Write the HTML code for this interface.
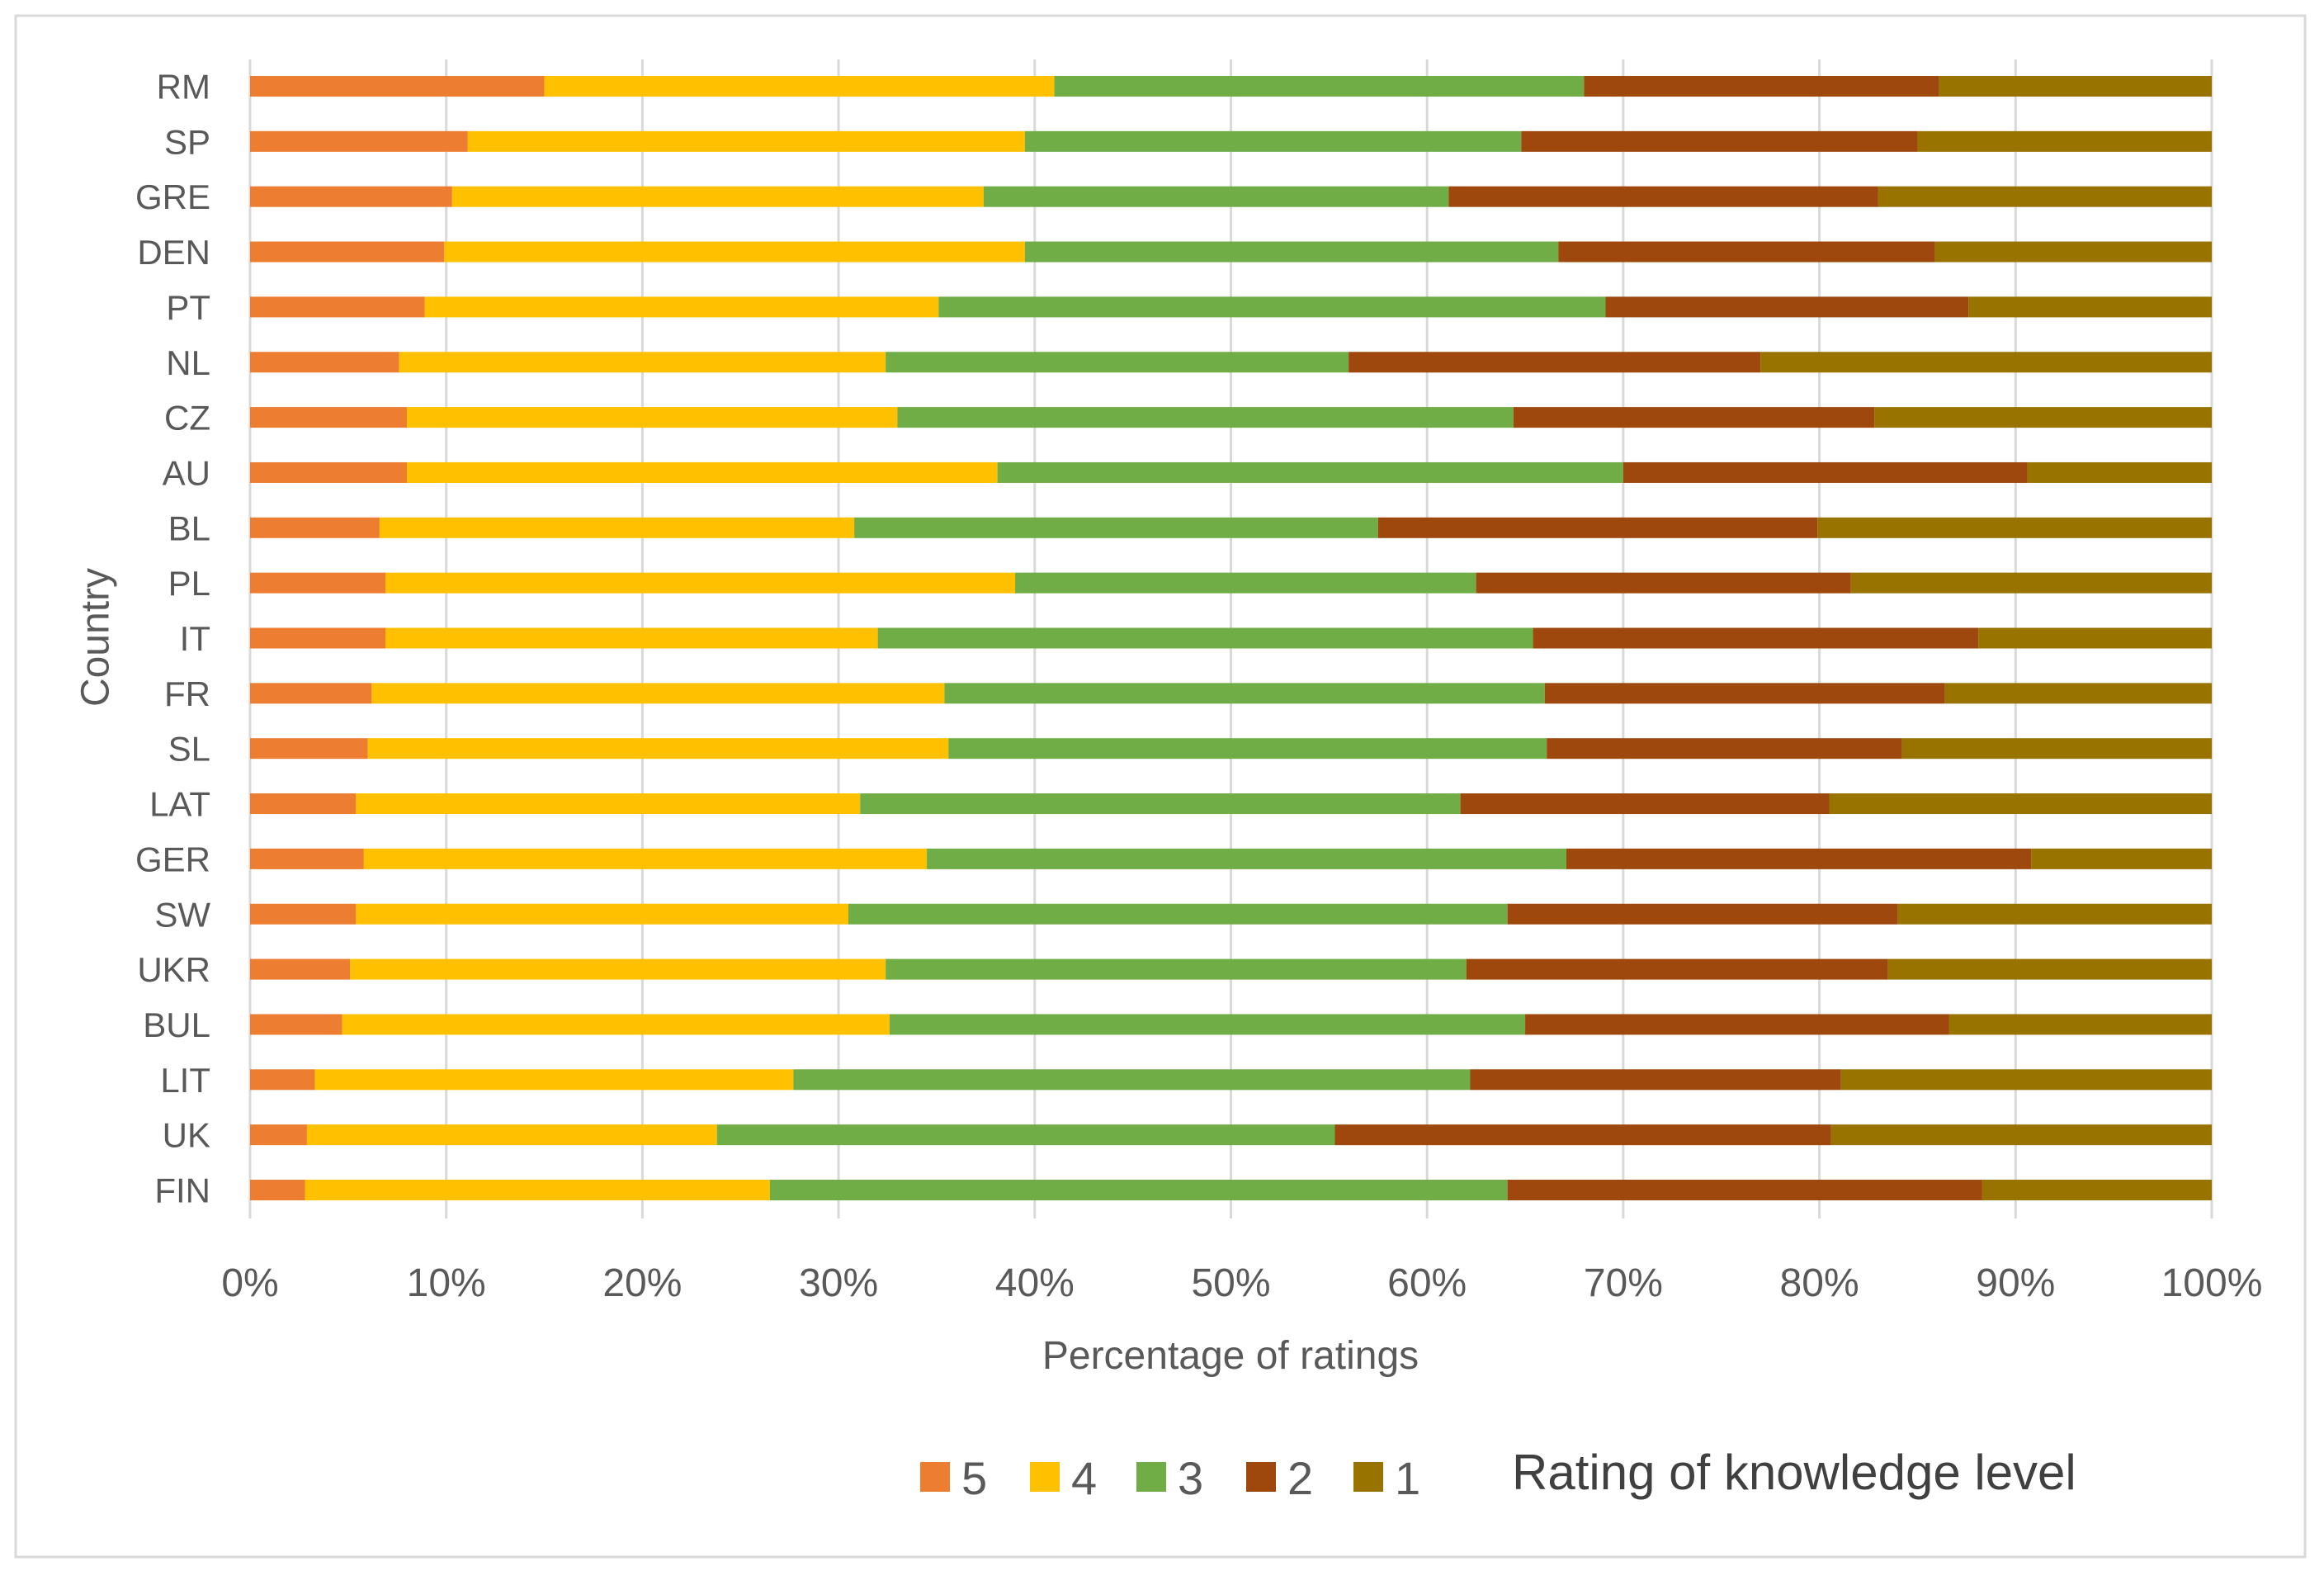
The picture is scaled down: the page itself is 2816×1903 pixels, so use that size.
<!DOCTYPE html>
<html><head><meta charset="utf-8"><style>
html,body{margin:0;padding:0;background:#fff}
svg{display:block}
text{font-family:"Liberation Sans",sans-serif;fill:#595959}
</style></head><body>
<svg id="chart" width="2816" height="1903" viewBox="0 0 2816 1903">
<rect x="19" y="19" width="2774" height="1867" fill="#fff" stroke="#d9d9d9" stroke-width="3"/>
<g id="grid"></g>
<g id="bars"></g>
<g id="ylabels"></g>
<g id="xlabels"></g>
<text x="119" y="772" font-size="48" text-anchor="middle" transform="rotate(-90 119 772)" dominant-baseline="middle">Country</text>
<text x="1491" y="1658" font-size="48" text-anchor="middle">Percentage of ratings</text>
<g id="legend"></g>
<text x="1832" y="1804" font-size="60" fill="#404040" style="fill:#404040">Rating of knowledge level</text>
</svg>
<script>
const countries=["RM","SP","GRE","DEN","PT","NL","CZ","AU","BL","PL","IT","FR","SL","LAT","GER","SW","UKR","BUL","LIT","UK","FIN"];
const r5=[15.0,11.1,10.3,9.9,8.9,7.6,8.0,8.0,6.6,6.9,6.9,6.2,6.0,5.4,5.8,5.4,5.1,4.7,3.3,2.9,2.8];
const r4=[26.0,28.4,27.1,29.6,26.2,24.8,25.0,30.1,24.2,32.1,25.1,29.2,29.6,25.7,28.7,25.1,27.3,27.9,24.4,20.9,23.7];
const r3=[27.0,25.3,23.7,27.2,34.0,23.6,31.4,31.9,26.7,23.5,33.4,30.6,30.5,30.6,32.6,33.6,29.6,32.4,34.5,31.5,37.6];
const r2=[18.1,20.2,21.9,19.2,18.5,21.0,18.4,20.6,22.4,19.1,22.7,20.4,18.1,18.8,23.7,19.9,21.5,21.6,18.9,25.3,24.2];
const r1=[13.9,15.0,17.0,14.1,12.4,23.0,17.2,9.4,20.1,18.4,11.9,13.6,15.8,19.5,9.2,16.0,16.5,13.4,18.9,19.4,11.7];
const seriesNames=["5","4","3","2","1"];
const xTicks=["0%","10%","20%","30%","40%","50%","60%","70%","80%","90%","100%"];
const colors=["#ED7D31","#FFC000","#70AD47","#9E480E","#997300"];
const NS="http://www.w3.org/2000/svg";
const X0=303,X1=2680,Y0=104.5,STEP=66.85,BH=25,GT=72,GB=1476;
const xs=p=>X0+(X1-X0)*p/100;
const ys=i=>Y0+i*STEP;
function mk(tag,attrs,parent){const e=document.createElementNS(NS,tag);for(const k in attrs)e.setAttribute(k,attrs[k]);parent.appendChild(e);return e;}
const grid=document.getElementById('grid'),bars=document.getElementById('bars'),yl=document.getElementById('ylabels'),xl=document.getElementById('xlabels'),lg=document.getElementById('legend');
xTicks.forEach((t,i)=>{
  const x=xs(i*10);
  const l=mk('line',{x1:x,x2:x,y1:GT,y2:GB,stroke:'#d9d9d9','stroke-width':3},grid);
  
  
  const tx=mk('text',{x:x,y:1570,'font-size':48,'text-anchor':'middle'},xl);
  tx.textContent=t;
  
  
});
const series=[r5,r4,r3,r2,r1];
countries.forEach((c,i)=>{
  const y=ys(i);
  const total=series.reduce((s,a)=>s+a[i],0);
  let cum=0;
  series.forEach((arr,k)=>{
    const v=arr[i]/total*100;
    const r=mk('rect',{x:xs(cum),y:y-BH/2,width:xs(cum+v)-xs(cum),height:BH,fill:colors[k]},bars);
    
    
    cum+=v;
  });
  const t=mk('text',{x:255,y:y+15,'font-size':42,'text-anchor':'end'},yl);
  t.textContent=c;
  
  
});
const lx=[1115,1248,1377,1510,1640];
seriesNames.forEach((n,k)=>{
  const r=mk('rect',{x:lx[k],y:1771,width:36,height:36,fill:colors[k]},lg);
  
  
  const t=mk('text',{x:lx[k]+50,y:1810,'font-size':56},lg);
  t.textContent=n;
  
  
});
</script>
</body></html>
